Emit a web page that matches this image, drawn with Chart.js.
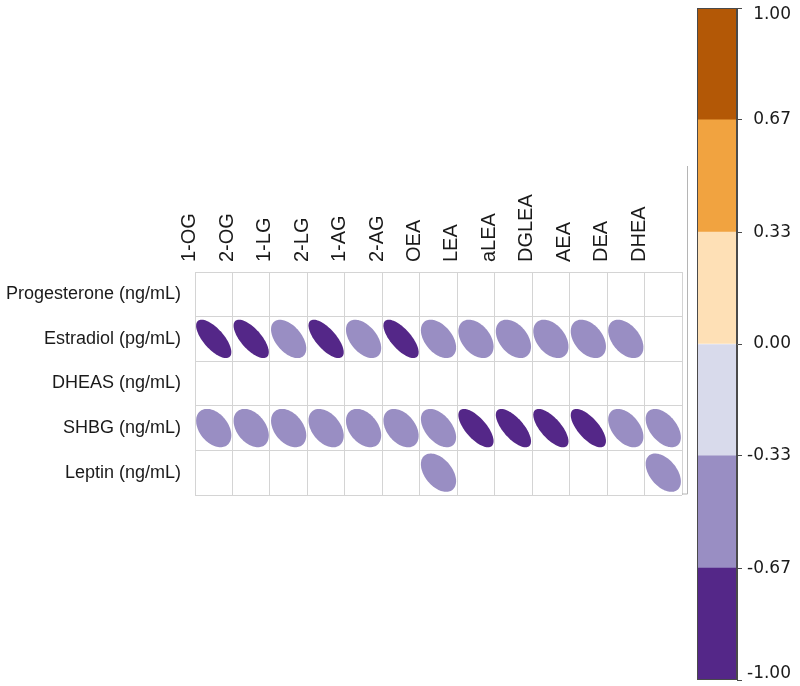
<!DOCTYPE html>
<html>
<head>
<meta charset="utf-8">
<script src="https://cdn.jsdelivr.net/npm/chart.js@4"></script>
<style>
html, body { margin: 0; padding: 0; background: #fff; }
#wrap { position: relative; width: 800px; height: 686px; }
#corr { position: absolute; left: 0; top: 0; }
#scale { position: absolute; left: 690px; top: 0; }
</style>
</head>
<body>
<div id="wrap">
  <canvas id="corr" width="690" height="686"></canvas>
  <canvas id="scale" width="110" height="686"></canvas>
</div>
<script>
// rows (hormones) and columns (lipids)
var hormones = ['Progesterone (ng/mL)', 'Estradiol (pg/mL)', 'DHEAS (ng/mL)', 'SHBG (ng/mL)', 'Leptin (ng/mL)'];
var lipids = ['1-OG', '2-OG', '1-LG', '2-LG', '1-AG', '2-AG', 'OEA', 'LEA', 'aLEA', 'DGLEA', 'AEA', 'DEA', 'DHEA'];

// correlation per row, null = not significant (blank cell)
var progesterone = [null, null, null, null, null, null, null, null, null, null, null, null, null];
var estradiol = [-0.69, -0.69, -0.5, -0.7, -0.48, -0.7, -0.45, -0.4, -0.4, -0.4, -0.4, -0.44, null];
var dheas = [null, null, null, null, null, null, null, null, null, null, null, null, null];
var shbg = [-0.38, -0.38, -0.38, -0.4, -0.38, -0.4, -0.48, -0.68, -0.69, -0.69, -0.68, -0.45, -0.48];
var leptin = [null, null, null, null, null, null, -0.44, null, null, null, null, null, -0.46];

// colour key
var breaks = [-1, -0.667, -0.333, 0, 0.333, 0.667, 1];
var bandColors = ['#542788', '#998ec3', '#d8daeb', '#fee0b6', '#f1a340', '#b35806'];

function colorFor(v) {
    for (var i = 0; i < bandColors.length; i++) {
        if (v < breaks[i + 1]) return bandColors[i];
    }
    return bandColors[bandColors.length - 1];
}

var rows = [progesterone, estradiol, dheas, shbg, leptin];
var points = [];
rows.forEach(function(vals, i) {
    vals.forEach(function(v, j) {
        if (v !== null) points.push({ x: lipids[j], y: hormones[i], r: v });
    });
});

// draws corrplot-style ellipses at each point position
var ellipsePlugin = {
    id: 'ellipses',
    afterDatasetsDraw: function(chart) {
        var ctx = chart.ctx;
        var xs = chart.scales.x, ys = chart.scales.y;
        var cw = (xs.right - xs.left) / lipids.length;
        var ch = (ys.bottom - ys.top) / hormones.length;
        var meta = chart.getDatasetMeta(0);
        ctx.save();
        meta.data.forEach(function(pt, i) {
            var r = chart.data.datasets[0].data[i].r;
            var a = Math.acos(r) / 2;
            ctx.beginPath();
            for (var k = 0; k <= 90; k++) {
                var t = k / 90 * Math.PI * 2;
                var px = pt.x + Math.cos(t + a) * 0.47 * cw;
                var py = pt.y - Math.cos(t - a) * 0.43 * ch;
                if (k === 0) ctx.moveTo(px, py); else ctx.lineTo(px, py);
            }
            ctx.closePath();
            ctx.fillStyle = colorFor(r);
            ctx.fill();
        });
        ctx.restore();
    }
};

// thin outer frame line on the right side
var framePlugin = {
    id: 'frame',
    afterDraw: function(chart) {
        var ctx = chart.ctx, a = chart.chartArea;
        var x = a.right + 5.5;
        ctx.save();
        ctx.strokeStyle = '#b5b5b5';
        ctx.lineWidth = 1;
        ctx.beginPath();
        ctx.moveTo(x, chart.scales.x.top);
        ctx.lineTo(x, a.bottom - 1);
        ctx.lineTo(a.right, a.bottom - 1);
        ctx.stroke();
        ctx.restore();
    }
};

var corrChart = new Chart(document.getElementById('corr'), {
    type: 'scatter',
    data: {
        datasets: [{
            data: points,
            pointRadius: 0,
            pointHoverRadius: 0
        }]
    },
    plugins: [ellipsePlugin, framePlugin],
    options: {
        responsive: false,
        animation: false,
        events: [],
        layout: { padding: { top: 166, left: 0, right: 8, bottom: 191 } },
        plugins: { legend: { display: false }, tooltip: { enabled: false } },
        scales: {
            x: {
                type: 'category',
                labels: lipids,
                position: 'top',
                offset: true,
                grid: { offset: true, color: '#d4d4d4', drawTicks: false },
                border: { color: '#d4d4d4' },
                ticks: {
                    autoSkip: false,
                    minRotation: 90,
                    maxRotation: 90,
                    padding: 10,
                    color: '#1a1a1a',
                    font: { family: 'Liberation Sans', size: 20 }
                },
                afterFit: function(scale) { scale.height = 106; }
            },
            y: {
                type: 'category',
                labels: hormones,
                offset: true,
                grid: { offset: true, color: '#d4d4d4', drawTicks: false },
                border: { color: '#d4d4d4' },
                ticks: {
                    autoSkip: false,
                    padding: 14,
                    color: '#1a1a1a',
                    font: { family: 'Liberation Sans', size: 18 }
                },
                afterFit: function(scale) { scale.width = 195; }
            }
        }
    }
});

// colour bar
var barBorder = {
    id: 'barBorder',
    afterDatasetsDraw: function(chart) {
        var ctx = chart.ctx, a = chart.chartArea;
        ctx.save();
        ctx.strokeStyle = '#4a4a4a';
        ctx.lineWidth = 1;
        ctx.strokeRect(a.left + 0.5, a.top + 0.5, a.right - a.left - 1, a.bottom - a.top - 1);
        ctx.restore();
    }
};

var bandSets = bandColors.map(function(c, i) {
    return {
        data: [[breaks[i], breaks[i + 1]]],
        backgroundColor: c,
        borderWidth: 0,
        barPercentage: 1,
        categoryPercentage: 1,
        grouped: false
    };
});

var scaleChart = new Chart(document.getElementById('scale'), {
    type: 'bar',
    data: { labels: [''], datasets: bandSets },
    plugins: [barBorder],
    options: {
        responsive: false,
        animation: false,
        events: [],
        layout: { padding: { top: 8, left: 7, right: 9, bottom: 6 } },
        plugins: { legend: { display: false }, tooltip: { enabled: false } },
        scales: {
            x: { display: false },
            y: {
                min: -1,
                max: 1,
                position: 'right',
                afterBuildTicks: function(scale) {
                    scale.ticks = breaks.map(function(v) { return { value: v }; });
                },
                grid: { drawOnChartArea: false, tickLength: 5, color: '#4a4a4a' },
                border: { color: '#4a4a4a' },
                ticks: {
                    autoSkip: false,
                    crossAlign: 'far',
                    padding: 6,
                    color: '#1a1a1a',
                    font: { family: 'DejaVu Sans', size: 17, lineHeight: 0.8 },
                    callback: function(v) {
                        var s = Number(v).toFixed(2);
                        // keep the end labels inside the picture
                        if (v === 1) return ['', s];
                        if (v === -1) return [s, ''];
                        return s;
                    }
                },
                afterFit: function(scale) {
                    scale.width = 54;
                    scale.paddingTop = 0;
                    scale.paddingBottom = 0;
                }
            }
        }
    }
});
</script>
</body>
</html>
